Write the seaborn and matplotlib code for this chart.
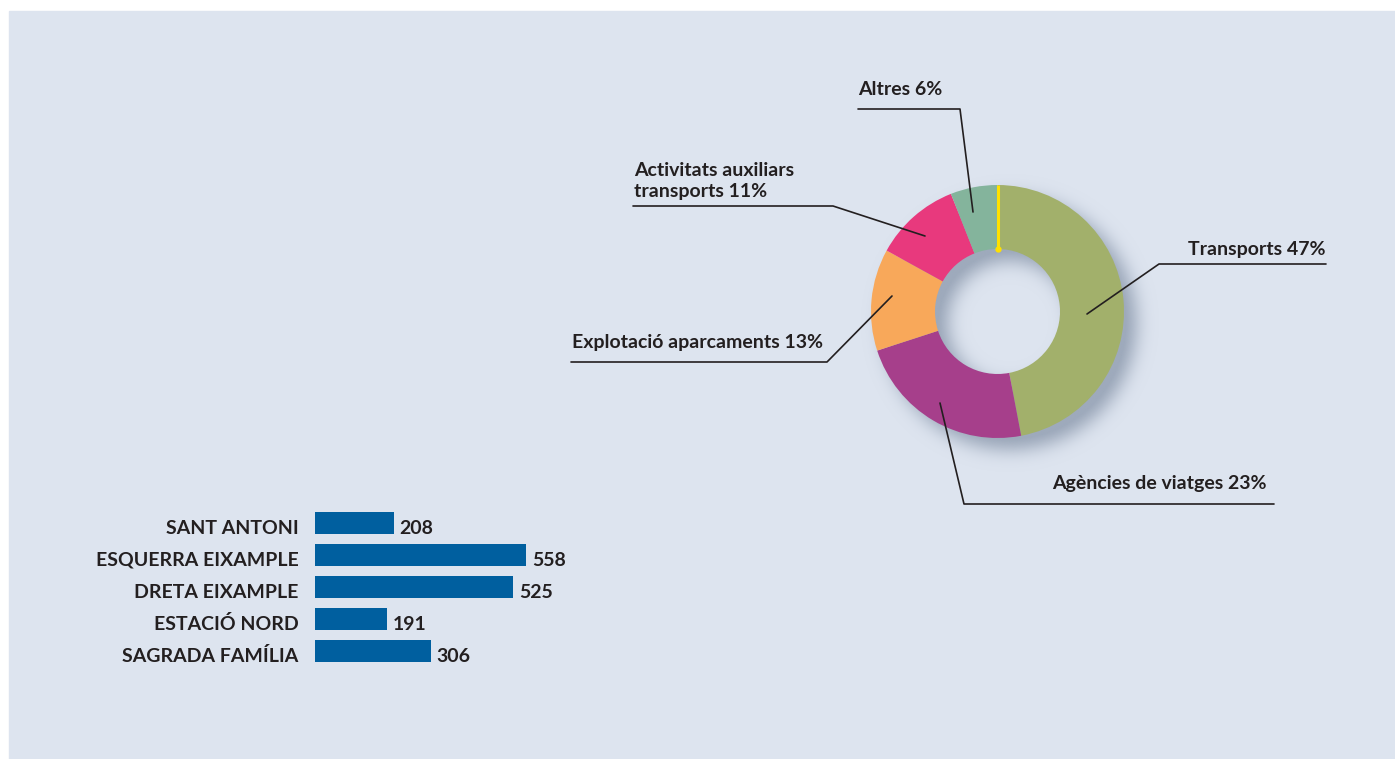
import numpy as np
import matplotlib
matplotlib.use('Agg')
import matplotlib.pyplot as plt
import seaborn as sns
import pandas as pd
from matplotlib.patches import Rectangle
from matplotlib.colors import to_rgb

# data
sectors = ['Transports', 'Agències de viatges', 'Explotació aparcaments',
           'Activitats auxiliars\ntransports', 'Altres']
shares = [47, 23, 13, 11, 6]
sector_colors = ['#a2b06b', '#a63f8b', '#f8a85a', '#e8397d', '#84b49c']

barris = ['SANT ANTONI', 'ESQUERRA EIXAMPLE', 'DRETA EIXAMPLE', 'ESTACIÓ NORD', 'SAGRADA FAMÍLIA']
counts = [208, 558, 525, 191, 306]

BG = '#dde4ef'
BAR = '#005f9f'
INK = '#231f20'
W, H = 1395, 759

sns.set_theme(style='white')
plt.rcParams['font.family'] = ['Lato', 'DejaVu Sans']
FS = 14
FW = 'bold'

fig = plt.figure(figsize=(W / 100, H / 100), dpi=100, facecolor='white')
fig.add_artist(Rectangle((9 / W, 0), 1 - 9 / W, 1 - 11 / H, transform=fig.transFigure,
                         color=BG, zorder=-5))


def px_axes(x0, y0, x1, y1, **kw):
    return fig.add_axes([x0 / W, 1 - y1 / H, (x1 - x0) / W, (y1 - y0) / H], **kw)


# ---- bar chart
SCALE = 0.378  # px per unit
XMAX = 600
axb = px_axes(315, 507, 315 + XMAX * SCALE, 667)
df = pd.DataFrame({'barri': barris, 'n': counts})
sns.barplot(data=df, x='n', y='barri', orient='h', color=BAR, saturation=1,
            width=0.6875, linewidth=0, edgecolor='none', ax=axb)
axb.set_xlim(0, XMAX)
axb.set_ylim(4.5, -0.5)
axb.axis('off')
base = (534 - 523) / 32
for i, (b, v) in enumerate(zip(barris, counts)):
    axb.text(v + 6 / SCALE, i + base, str(v), ha='left', va='baseline',
             fontsize=FS, fontweight=FW, color=INK, clip_on=False)
    axb.text(-16.7 / SCALE, i + base, b, ha='right', va='baseline',
             fontsize=FS, fontweight=FW, color=INK, clip_on=False)

# ---- donut
R_PX = 126.5
ri = 62.5 / R_PX
lim = 180 / R_PX
axp = px_axes(997.5 - 180, 311.5 - 180, 997.5 + 180, 311.5 + 180)
axp.patch.set_alpha(0)

# soft drop shadow behind the ring
n = 500
xs = np.linspace(-lim, lim, n)
X, Y = np.meshgrid(xs, xs)
off = 12 / R_PX
R = np.hypot(X - off, Y + off)
mask = ((R <= 1.0) & (R >= ri)).astype(float)
sig = 9 / R_PX / (2 * lim / n)
t = np.arange(-int(3 * sig), int(3 * sig) + 1)
k = np.exp(-0.5 * (t / sig) ** 2)
k /= k.sum()
mask = np.apply_along_axis(lambda v: np.convolve(v, k, mode='same'), 0, mask)
mask = np.apply_along_axis(lambda v: np.convolve(v, k, mode='same'), 1, mask)
rgba = np.zeros((n, n, 4))
rgba[..., :3] = to_rgb('#9eaabc')
rgba[..., 3] = np.clip(mask * 1.15, 0, 1)
axp.imshow(rgba, extent=(-lim, lim, -lim, lim), origin='lower', zorder=0,
           interpolation='bilinear')

axp.pie(shares, colors=sector_colors, startangle=90, counterclock=False, radius=1,
        wedgeprops=dict(width=1 - ri, linewidth=0))
axp.plot([0, 0], [ri, 1], color='#ffe100', lw=2.2, solid_capstyle='butt', zorder=5)
axp.plot([0], [ri], 'o', color='#ffe100', ms=3.5, zorder=5)
axp.set_xlim(-lim, lim)
axp.set_ylim(-lim, lim)
axp.set_aspect('equal')
axp.axis('off')

# ---- labels with leader lines (pixel layout)
axo = fig.add_axes([0, 0, 1, 1], zorder=10)
axo.set_xlim(0, W)
axo.set_ylim(H, 0)
axo.axis('off')
axo.patch.set_alpha(0)

layout = {
    'Transports': dict(tx=1326, ty=255, ha='right',
                       line=[(1326, 264), (1159, 264), (1087, 314)]),
    'Agències de viatges': dict(tx=1052, ty=489, ha='left',
                                line=[(1274, 504), (964, 504), (940, 403)]),
    'Explotació aparcaments': dict(tx=572, ty=348, ha='left',
                                   line=[(571, 362), (827, 362), (892, 296)]),
    'Activitats auxiliars\ntransports': dict(tx=634, ty=197, ha='left',
                                             line=[(633, 206), (833, 206), (925, 236)]),
    'Altres': dict(tx=858, ty=95, ha='left',
                   line=[(858, 109), (960, 109), (973, 212)]),
}
for name, s in zip(sectors, shares):
    lay = layout[name]
    axo.text(lay['tx'], lay['ty'], f'{name} {s}%', ha=lay['ha'], va='baseline',
             fontsize=FS, fontweight=FW, color=INK, linespacing=1.25,
             multialignment='left')
    xs_, ys_ = zip(*lay['line'])
    axo.plot(xs_, ys_, color=INK, lw=1.2)

fig.savefig('out.png', dpi=100, facecolor='white')
